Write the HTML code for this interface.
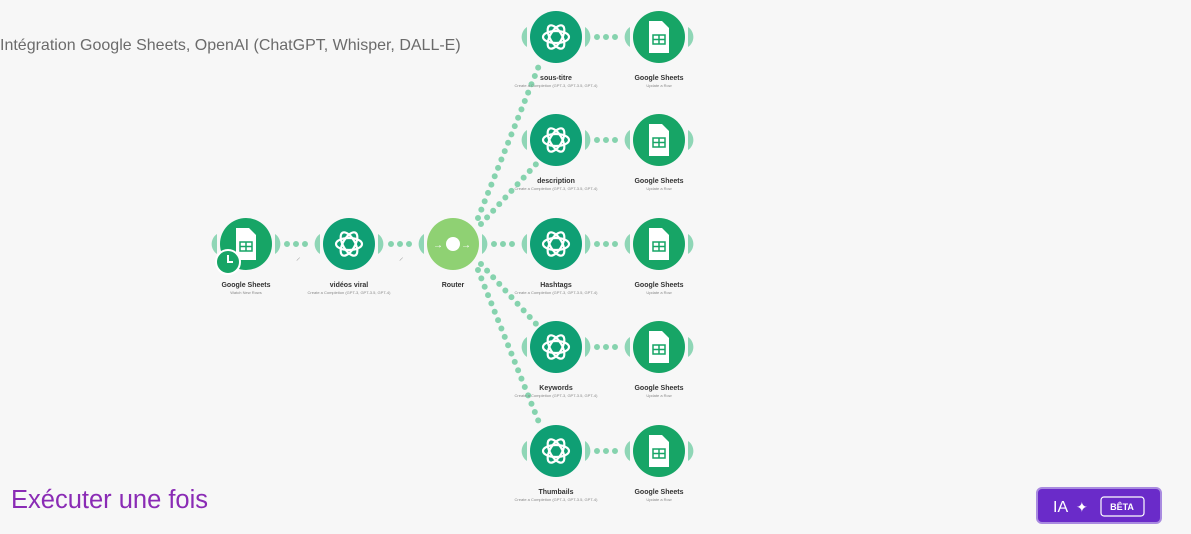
<!DOCTYPE html>
<html><head><meta charset="utf-8"><style>
body{margin:0;background:#f7f7f7;width:1191px;height:529px;overflow:hidden;font-family:"Liberation Sans",sans-serif}
</style></head><body>
<svg width="1191" height="529" viewBox="0 0 1191 529" xmlns="http://www.w3.org/2000/svg" font-family="Liberation Sans, sans-serif">
<defs>
<g id="oai"><circle r="26" fill="#0f9f74"/>
<g fill="none" stroke="#fff" stroke-width="2.2">
<ellipse rx="13" ry="6" transform="rotate(0)"/><ellipse rx="13" ry="6" transform="rotate(60)"/><ellipse rx="13" ry="6" transform="rotate(120)"/>
</g></g>
<g id="gs"><circle r="26" fill="#17a566"/>
<path d="M-10,-16 h13 l7,7 v25 h-20z" fill="#fff"/>
<rect x="-6" y="-2" width="12" height="9" fill="none" stroke="#17a566" stroke-width="1.5"/>
<line x1="-6" y1="2.5" x2="6" y2="2.5" stroke="#17a566" stroke-width="1.5"/>
<line x1="0" y1="-2" x2="0" y2="7" stroke="#17a566" stroke-width="1.5"/></g>
<g id="ears"><path d="M29,-10 a12,12 0 0 1 0,20" fill="#8fd6b6"/><path d="M-29,-10 a12,12 0 0 0 0,20" fill="#8fd6b6"/></g>
</defs>
<text x="0" y="50" font-size="16" fill="#6b6b6b">Intégration Google Sheets, OpenAI (ChatGPT, Whisper, DALL-E)</text>
<g stroke="#86d3ae" stroke-width="6" stroke-linecap="round" stroke-dasharray="0 9" fill="none">
<line x1="287" y1="244" x2="310" y2="244"/><line x1="391" y1="244" x2="414" y2="244"/>
<line x1="478" y1="218" x2="540" y2="63"/><line x1="481" y1="224" x2="538" y2="162"/>
<line x1="494" y1="244" x2="516" y2="244"/><line x1="481" y1="264" x2="538" y2="326"/><line x1="478" y1="270" x2="540" y2="425"/>
<line x1="597" y1="37" x2="620" y2="37"/><line x1="597" y1="140" x2="620" y2="140"/><line x1="597" y1="244" x2="620" y2="244"/><line x1="597" y1="347" x2="620" y2="347"/><line x1="597" y1="451" x2="620" y2="451"/>
</g>
<g fill="#999" font-size="9"><text x="296" y="260">⸝</text><text x="399" y="260">⸝</text></g>
<g transform="translate(246,244)"><use href="#ears"/><use href="#gs"/><circle cx="-18" cy="18" r="12" fill="#17a566" stroke="#fff" stroke-width="2"/><path d="M-18,11 v7 h5" stroke="#fff" stroke-width="2" fill="none"/></g>
<g transform="translate(349,244)"><use href="#ears"/><use href="#oai"/></g>
<g transform="translate(453,244)"><use href="#ears"/><circle r="26" fill="#8fd173"/><circle r="7" fill="#fff"/><text x="-20" y="4" fill="#fff" font-size="10">→</text><text x="8" y="4" fill="#fff" font-size="10">→</text></g>
<g font-size="7" font-weight="bold" fill="#333" text-anchor="middle">
<text x="246" y="287">Google Sheets</text><text x="349" y="287">vidéos viral</text><text x="453" y="287">Router</text>
</g>
<g font-size="4" fill="#888" text-anchor="middle"><text x="246" y="294">Watch New Rows</text><text x="349" y="294">Create a Completion (GPT-3, GPT-3.5, GPT-4)</text></g>
<g id="col">
<g transform="translate(556,37)"><use href="#ears"/><use href="#oai"/></g><g transform="translate(659,37)"><use href="#ears"/><use href="#gs"/></g>
<g transform="translate(556,140)"><use href="#ears"/><use href="#oai"/></g><g transform="translate(659,140)"><use href="#ears"/><use href="#gs"/></g>
<g transform="translate(556,244)"><use href="#ears"/><use href="#oai"/></g><g transform="translate(659,244)"><use href="#ears"/><use href="#gs"/></g>
<g transform="translate(556,347)"><use href="#ears"/><use href="#oai"/></g><g transform="translate(659,347)"><use href="#ears"/><use href="#gs"/></g>
<g transform="translate(556,451)"><use href="#ears"/><use href="#oai"/></g><g transform="translate(659,451)"><use href="#ears"/><use href="#gs"/></g>
</g>
<g font-size="7" font-weight="bold" fill="#333" text-anchor="middle">
<text x="556" y="80">sous-titre</text><text x="659" y="80">Google Sheets</text>
<text x="556" y="183">description</text><text x="659" y="183">Google Sheets</text>
<text x="556" y="287">Hashtags</text><text x="659" y="287">Google Sheets</text>
<text x="556" y="390">Keywords</text><text x="659" y="390">Google Sheets</text>
<text x="556" y="494">Thumbails</text><text x="659" y="494">Google Sheets</text>
</g>
<g font-size="4" fill="#888" text-anchor="middle">
<text x="556" y="87">Create a Completion (GPT-3, GPT-3.5, GPT-4)</text><text x="659" y="87">Update a Row</text>
<text x="556" y="190">Create a Completion (GPT-3, GPT-3.5, GPT-4)</text><text x="659" y="190">Update a Row</text>
<text x="556" y="294">Create a Completion (GPT-3, GPT-3.5, GPT-4)</text><text x="659" y="294">Update a Row</text>
<text x="556" y="397">Create a Completion (GPT-3, GPT-3.5, GPT-4)</text><text x="659" y="397">Update a Row</text>
<text x="556" y="501">Create a Completion (GPT-3, GPT-3.5, GPT-4)</text><text x="659" y="501">Update a Row</text>
</g>
<text x="11" y="508" font-size="25.5" fill="#8a2bb5">Exécuter une fois</text>
<rect x="1037" y="488" width="124" height="35" rx="5" fill="#6a2bc9" stroke="#a98be0" stroke-width="2"/>
<text x="1053" y="512" font-size="16" fill="#fff">IA</text>
<text x="1076" y="512" font-size="14" fill="#fff">✦</text>
<rect x="1101" y="497" width="43" height="19" rx="3" fill="none" stroke="#fff" stroke-width="1.2"/>
<text x="1122" y="510" font-size="9" font-weight="bold" fill="#fff" text-anchor="middle">BÊTA</text>
</svg>
</body></html>
